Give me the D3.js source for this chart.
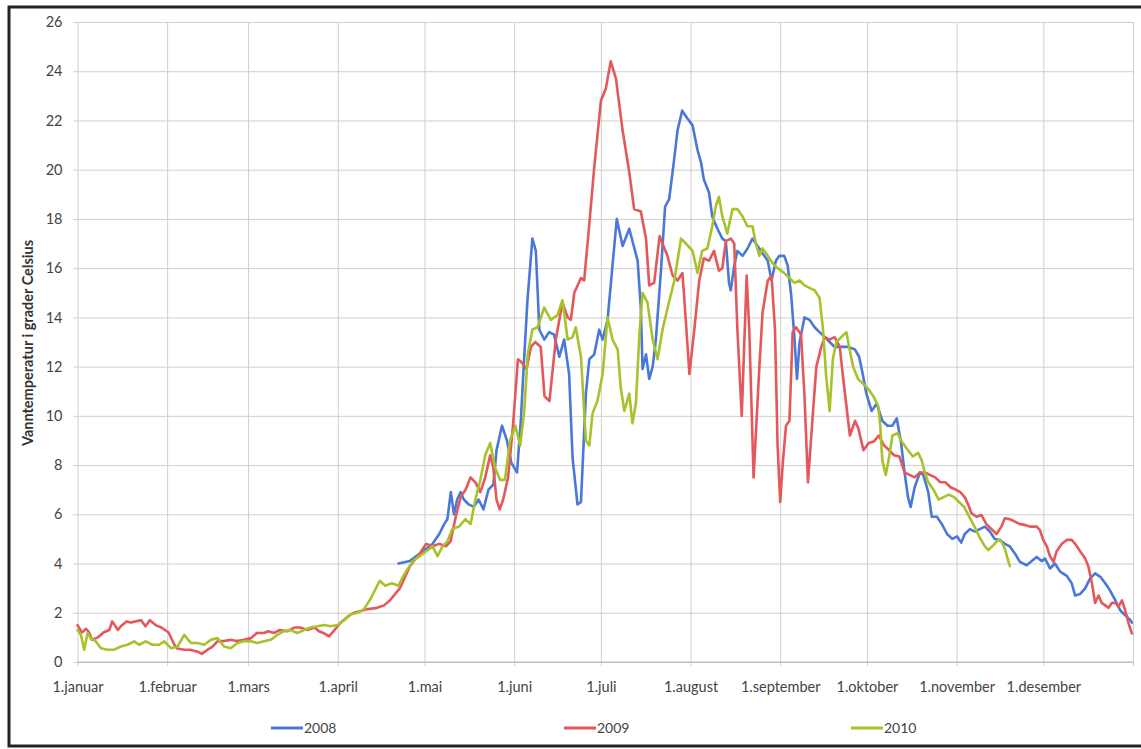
<!DOCTYPE html>
<html>
<head>
<meta charset="utf-8">
<script src="https://cdn.jsdelivr.net/npm/d3@7"></script>
<style>
  html, body { margin: 0; padding: 0; background: #fff; }
  svg { display: block; }
</style>
</head>
<body>
<svg id="chart" width="1141" height="749"></svg>
<script>
// ---- data (day of year, water temperature °C) ----
const monthStarts = [0, 31, 59, 90, 120, 151, 181, 212, 243, 273, 304, 334];
const monthLabels = ["1.januar", "1.februar", "1.mars", "1.april", "1.mai", "1.juni",
  "1.juli", "1.august", "1.september", "1.oktober", "1.november", "1.desember"];
const yTicks = [0, 2, 4, 6, 8, 10, 12, 14, 16, 18, 20, 22, 24, 26];
const seriesNames = ["2008", "2009", "2010"];
const seriesColors = ["#4a78d6", "#e4575a", "#a7c22a"];

const data2008 = [[111,4.0],[114.9,4.1],[117.2,4.3],[120.6,4.6],[122.8,4.8],[125.1,5.2],[126.8,5.6],[127.9,5.8],[129.1,6.9],[130.2,6.0],[131.3,6.6],[132.5,6.9],[133.6,6.6],[135.3,6.4],[137,6.3],[138.7,6.6],[140.4,6.2],[142.1,7.0],[143.8,7.2],[144.9,8.6],[146.8,9.6],[148.5,9.0],[150,8.1],[152,7.7],[153.3,9.8],[154.3,12.0],[155.6,14.7],[157.3,17.2],[158.5,16.7],[159.7,13.5],[161.4,13.1],[163.1,13.4],[164.8,13.3],[166.6,12.4],[168.3,13.1],[170,11.7],[171.2,8.3],[172.9,6.4],[174.1,6.5],[175.8,10.9],[177,12.3],[178.7,12.5],[180.4,13.5],[181.6,13.1],[183.3,13.9],[185,16.1],[186.5,18.0],[188.5,16.9],[190.8,17.6],[193.7,16.3],[194.8,14.4],[195.4,11.9],[196.6,12.5],[197.7,11.5],[198.9,12.0],[200,13.1],[201.7,15.8],[203.2,18.5],[204.6,18.8],[206.2,20.3],[207.5,21.6],[209.1,22.4],[210.8,22.1],[212.7,21.8],[214.4,20.8],[215.6,20.3],[216.6,19.6],[218.4,19.06],[219.5,18.1],[221.3,17.6],[223,17.2],[224.2,17.1],[225.3,15.4],[225.9,15.1],[227.1,16.1],[228.2,16.7],[230,16.5],[231.7,16.8],[233.4,17.2],[235.2,16.9],[236.9,16.6],[238.7,16.3],[240,15.5],[241.5,16.3],[242.7,16.5],[244.4,16.5],[245.6,16.1],[246.8,14.9],[247.9,13.2],[248.8,11.5],[249.7,13.0],[251.4,14.0],[253.1,13.9],[254.9,13.6],[256.6,13.4],[258.4,13.2],[260.1,13.0],[261.8,12.8],[264.1,12.8],[266.5,12.8],[268.8,12.7],[270.3,12.4],[271.7,11.6],[272.8,10.9],[274.6,10.2],[276.4,10.5],[278.3,9.8],[280.1,9.6],[281.8,9.6],[283.3,9.9],[284.8,8.9],[286,7.7],[287.2,6.7],[288.1,6.3],[289.5,7.1],[291.3,7.7],[292.5,7.6],[294.2,6.9],[295.4,5.9],[297.2,5.9],[298.9,5.6],[300.7,5.2],[302.5,5.0],[304.2,5.1],[305.6,4.85],[306.8,5.2],[308.6,5.4],[310.3,5.3],[312,5.4],[313.8,5.5],[315.5,5.3],[317.2,5.0],[319,4.96],[320.7,4.8],[322.4,4.7],[324.2,4.4],[325.9,4.07],[328.2,3.93],[330,4.1],[331.7,4.27],[333.4,4.1],[334.6,4.2],[336.3,3.8],[338,4.0],[339.8,3.67],[342.1,3.5],[343.8,3.2],[345,2.7],[346.7,2.76],[348.5,3.0],[350.2,3.4],[351.9,3.6],[353.7,3.46],[355.4,3.2],[357.1,2.9],[358.9,2.5],[360.6,2.1],[362.3,1.9],[364.1,1.7],[364.6,1.6]];

const data2009 = [[0,1.5],[1.5,1.2],[3,1.35],[4,1.2],[5,0.9],[7,1.0],[9,1.2],[11,1.3],[12,1.65],[14,1.3],[15,1.45],[17,1.65],[18.5,1.6],[20,1.65],[22,1.7],[23.5,1.45],[25,1.7],[27,1.5],[29,1.4],[31.5,1.2],[33.5,0.7],[34.5,0.55],[37,0.5],[39,0.5],[41.5,0.42],[43,0.33],[45,0.5],[46.5,0.6],[48.5,0.85],[50.5,0.85],[53,0.9],[55,0.85],[57.5,0.9],[60,0.97],[62,1.18],[64.5,1.18],[66,1.25],[68,1.18],[70,1.3],[72.5,1.25],[75,1.4],[77,1.4],[79.5,1.3],[82,1.4],[83.5,1.25],[85,1.18],[87,1.04],[88.5,1.25],[91,1.6],[93.5,1.85],[95.5,2.0],[98,2.07],[100,2.14],[103.6,2.2],[106,2.3],[108,2.5],[111.5,3.0],[115,3.9],[118.3,4.4],[120.6,4.8],[122.8,4.7],[125,4.8],[127.4,4.7],[129,4.9],[130.8,5.9],[132.5,6.7],[134.2,7.0],[135.9,7.5],[137.6,7.3],[139.3,6.9],[141,7.5],[142.7,8.4],[143.8,7.9],[144.9,6.6],[146,6.2],[147.2,6.6],[148.9,7.5],[150.6,9.6],[152.3,12.3],[153.4,12.2],[155.3,11.9],[156.8,12.8],[158.3,13.0],[160.2,12.8],[161.5,10.8],[163.2,10.6],[165.4,13.1],[167.7,14.6],[169.5,14.0],[170.6,13.9],[171.8,15.0],[174.1,15.6],[175.2,15.5],[177,17.8],[178.7,20.1],[181,22.8],[182.7,23.3],[184.4,24.4],[186.2,23.7],[188.5,21.6],[190.8,19.9],[192.5,18.4],[194.8,18.3],[196.6,17.2],[197.7,15.3],[199.4,15.4],[201.3,17.3],[204,16.5],[205.8,15.7],[207.5,15.5],[209.2,15.8],[210.4,13.8],[211.6,11.7],[213.3,13.5],[215,15.5],[216.6,16.4],[218.4,16.3],[220.1,16.7],[221.8,15.9],[223,16.0],[224.2,17.1],[225.9,17.2],[227.1,17.0],[228.2,13.5],[229.7,10.0],[231.4,15.7],[232.3,13.5],[233.8,7.5],[235.8,12.0],[236.9,14.2],[238.7,15.5],[240,15.7],[241.2,13.5],[242.1,8.8],[243,6.5],[243.9,8.1],[245,9.6],[246.2,9.8],[247.3,13.4],[248.5,13.6],[250.2,13.3],[251.4,10.8],[252.6,7.3],[254.3,10.1],[255.5,12.0],[257.2,12.8],[258.4,13.2],[260.1,13.1],[261.8,13.2],[263.6,12.8],[264.7,11.6],[265.9,10.4],[267.1,9.2],[268.9,9.8],[270,9.5],[271.8,8.6],[273.6,8.9],[275.4,8.96],[277.1,9.2],[278.9,8.8],[280.7,8.6],[282.4,8.4],[284.2,8.35],[286,7.7],[287.7,7.6],[289.5,7.5],[291.3,7.7],[293,7.7],[294.8,7.6],[296.6,7.5],[298.4,7.3],[300.1,7.3],[301.9,7.1],[303.7,7.0],[305.3,6.9],[306.8,6.7],[308,6.4],[309.1,6.05],[310.9,5.9],[312.6,5.97],[314.3,5.6],[316.1,5.4],[317.8,5.2],[319.5,5.5],[320.7,5.84],[322.4,5.8],[324.2,5.7],[325.9,5.6],[327.6,5.57],[329.4,5.5],[331.7,5.5],[332.8,5.36],[334,4.95],[335.2,4.7],[336.3,4.3],[337.5,4.07],[338.6,4.5],[340.4,4.8],[342.1,4.96],[343.8,4.96],[345,4.8],[346.7,4.5],[348.5,4.2],[349.6,3.87],[350.8,3.2],[351.9,2.4],[353.1,2.7],[354.2,2.4],[355.4,2.3],[356.5,2.2],[357.7,2.4],[358.9,2.4],[360,2.25],[361.2,2.5],[362.3,2.1],[363.5,1.56],[364.6,1.16]];

const data2010 = [[0,1.3],[1.2,1.1],[2.3,0.5],[3.5,1.18],[4.6,0.97],[6.3,0.84],[8.1,0.56],[10.4,0.5],[12.7,0.5],[15,0.63],[17.3,0.7],[19.6,0.84],[21.3,0.7],[23.6,0.84],[25.9,0.7],[28.2,0.7],[30,0.84],[32.3,0.56],[34.6,0.63],[36.9,1.1],[39.2,0.77],[41.5,0.77],[43.8,0.7],[46.1,0.9],[48.4,0.97],[50.7,0.63],[53,0.56],[55.3,0.77],[57.6,0.84],[59.9,0.84],[62.2,0.77],[64.5,0.84],[66.8,0.9],[69.1,1.1],[71.4,1.25],[73.7,1.3],[76,1.18],[78.3,1.3],[80.6,1.4],[82.9,1.45],[85.3,1.5],[87.6,1.45],[89.9,1.5],[92.2,1.7],[94.5,1.93],[96.8,2.0],[99.1,2.15],[101.5,2.6],[104.5,3.3],[106.4,3.1],[108.7,3.2],[111,3.1],[113.2,3.6],[116,4.1],[118.3,4.3],[120.6,4.5],[122.8,4.7],[124.5,4.3],[126.2,4.7],[127.9,4.9],[129.6,5.4],[131.9,5.5],[134.2,5.8],[135.9,5.6],[137.6,6.6],[139.3,7.4],[141,8.4],[142.7,8.9],[144.4,7.9],[146.1,7.4],[147.8,7.4],[149.6,9.0],[151.4,9.6],[153.1,8.8],[154.5,10.2],[155.7,12.5],[157.3,13.5],[159.1,13.6],[161.4,14.4],[163.7,13.9],[166,14.1],[167.7,14.7],[169.5,13.1],[171.2,13.2],[172.3,13.6],[174.1,12.4],[175.8,9.0],[177,8.8],[178.1,10.1],[179.8,10.6],[181.6,11.7],[183.3,14.0],[185,13.1],[186.8,12.7],[187.9,11.1],[189.1,10.2],[190.8,10.9],[191.9,9.7],[193.1,10.5],[194.3,13.3],[195.4,15.0],[197.1,14.6],[198.9,13.1],[200.6,12.3],[202.3,13.5],[204.1,14.4],[206.4,15.5],[208.7,17.2],[210.4,17.0],[212.7,16.7],[214.4,15.8],[216,16.7],[217.8,16.8],[219.5,17.7],[220.7,18.5],[221.8,18.9],[223,18.1],[224.7,17.4],[226.5,18.4],[228.2,18.4],[230,18.1],[231.7,17.7],[233.4,17.7],[234.6,17.0],[235.8,16.5],[236.9,16.8],[238.7,16.5],[240.4,16.2],[242.1,16.0],[244.4,15.8],[246.2,15.6],[247.9,15.4],[249.7,15.5],[251.4,15.3],[253.1,15.2],[254.9,15.1],[256.6,14.8],[257.8,13.5],[258.9,11.6],[260.1,10.2],[261.2,12.3],[262.4,13.0],[264.1,13.2],[265.9,13.4],[267,12.7],[268.2,12.0],[269.9,11.5],[271.7,11.3],[273.4,11.1],[275.2,10.8],[276.9,10.4],[277.6,9.6],[278.3,8.2],[279.5,7.6],[280.7,8.35],[281.8,9.2],[283.6,9.3],[284.8,9.0],[286,8.8],[287.2,8.6],[288.9,8.35],[290.7,8.5],[291.9,8.2],[293,7.7],[294.2,7.3],[296,7.0],[297.8,6.6],[299.5,6.7],[301.3,6.8],[303.1,6.7],[304.8,6.5],[306.6,6.3],[308.4,5.9],[310.2,5.5],[312,5.05],[313.8,4.7],[315,4.55],[316.7,4.75],[318.4,4.96],[319.5,4.9],[320.7,4.6],[321.9,4.1],[322.4,3.9]];

const allSeries = [data2008, data2009, data2010];

// ---- drawing ----
const svg = d3.select("#chart");
const W = 1141, H = 749;
const plot = { left: 77.5, right: 1133, top: 22, bottom: 662 };
const font = "Lato, 'Open Sans', 'Liberation Sans', sans-serif";
const textColor = "#444";

svg.append("rect").attr("width", W).attr("height", H).attr("fill", "#fff");

const x = d3.scaleLinear().domain([0, 365]).range([plot.left, plot.right]);
const y = d3.scaleLinear().domain([0, 26]).range([plot.bottom, plot.top]);

// horizontal gridlines
svg.append("g")
  .attr("transform", `translate(${plot.left},0)`)
  .call(d3.axisLeft(y).tickValues(yTicks).tickSize(-(plot.right - plot.left)).tickFormat(""))
  .call(g => g.select(".domain").remove())
  .call(g => g.selectAll("line").attr("stroke", "#cfcfcf").attr("stroke-width", 1).attr("x1", -4));

// vertical gridlines (month starts + year end)
svg.append("g")
  .attr("transform", `translate(0,${plot.bottom})`)
  .call(d3.axisBottom(x).tickValues(monthStarts.concat([365])).tickSize(-(plot.bottom - plot.top)).tickFormat(""))
  .call(g => g.select(".domain").remove())
  .call(g => g.selectAll("line").attr("stroke", "#cfcfcf").attr("stroke-width", 1).attr("y1", 4));

// x axis line
svg.append("line")
  .attr("x1", plot.left).attr("x2", plot.right)
  .attr("y1", y(0)).attr("y2", y(0))
  .attr("stroke", "#b8b8b8").attr("stroke-width", 1);

// y tick labels
svg.append("g")
  .attr("transform", `translate(${plot.left},0)`)
  .call(d3.axisLeft(y).tickValues(yTicks).tickSize(0).tickPadding(15))
  .call(g => g.select(".domain").remove())
  .call(g => g.selectAll("text").attr("font-family", font).attr("font-size", 14.5).attr("fill", textColor));

// x tick labels
svg.append("g")
  .attr("transform", `translate(0,${plot.bottom})`)
  .call(d3.axisBottom(x).tickValues(monthStarts).tickSize(0).tickPadding(20)
    .tickFormat((d, i) => monthLabels[i]))
  .call(g => g.select(".domain").remove())
  .call(g => g.selectAll("text").attr("font-family", font).attr("font-size", 14.5).attr("fill", textColor));

// y axis title
svg.append("text")
  .attr("transform", `translate(33,343) rotate(-90)`)
  .attr("text-anchor", "middle")
  .attr("font-family", font).attr("font-size", 14.5).attr("font-weight", "bold")
  .attr("fill", "#333")
  .text("Vanntemperatur i grader Celsius");

// lines
const line = d3.line().x(d => x(d[0])).y(d => y(d[1]));
allSeries.forEach((s, i) => {
  svg.append("path")
    .datum(s)
    .attr("fill", "none")
    .attr("stroke", seriesColors[i])
    .attr("stroke-width", 2.6)
    .attr("stroke-linejoin", "round")
    .attr("stroke-linecap", "round")
    .attr("d", line);
});

// legend
const legendX = [271, 564, 851];
const legend = svg.append("g");
seriesNames.forEach((name, i) => {
  const g = legend.append("g").attr("transform", `translate(${legendX[i]},728)`);
  g.append("line").attr("x1", 0).attr("x2", 32).attr("y1", 0).attr("y2", 0)
    .attr("stroke", seriesColors[i]).attr("stroke-width", 3);
  g.append("text").attr("x", 33).attr("y", 5)
    .attr("font-family", font).attr("font-size", 14).attr("fill", textColor)
    .text(name);
});

// outer frame
svg.append("rect")
  .attr("x", 9).attr("y", 7).attr("width", W + 10).attr("height", 739)
  .attr("fill", "none").attr("stroke", "#222").attr("stroke-width", 3);
</script>
</body>
</html>
